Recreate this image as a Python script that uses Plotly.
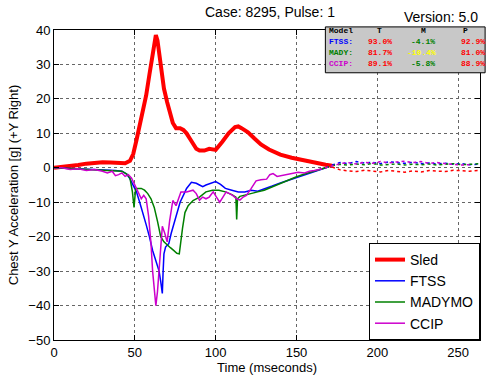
import plotly.graph_objects as go

# sled pulse (solid part, evaluation window)
sled_t = [0, 5, 10, 15, 20, 25, 30, 35, 40, 44, 47, 49, 51, 53, 55, 57, 59, 61, 62, 63, 64, 65,
          66.5, 68, 70, 72, 73.5, 75.5, 78, 80, 82, 84, 86, 88, 90, 93, 96, 100, 104, 108, 112,
          114, 116, 120, 124, 128, 133, 140, 147, 152, 160, 168, 172]
sled_y = [0, 0.2, 0.4, 0.8, 1.2, 1.5, 1.6, 1.5, 1.3, 1.3, 2, 4, 8, 12, 16, 21, 27, 33, 36, 38.5, 37, 33,
          28, 23, 19, 15, 13, 11.5, 11.5, 11, 10, 8.5, 7, 5.5, 5, 5, 5.5, 5.2, 7.5, 10, 11.8,
          12, 11.5, 10.3, 8.5, 6.8, 5.3, 3.8, 2.9, 2.4, 1.5, 0.9, 0.6]

ftss_t = [0, 10, 20, 30, 38, 42, 45, 47, 49, 51, 53, 55, 57, 59, 61, 63, 65, 66, 67, 67.5, 68, 69,
          71, 72.5, 74, 76, 78, 80, 82, 85, 88, 90, 92, 94, 97, 100, 103, 106, 110, 114, 118, 122,
          126, 130, 135, 140, 145, 150, 155, 160, 165, 170]
ftss_y = [0, -0.2, -0.3, -0.5, -0.8, -1, -1.8, -3.2, -5, -7, -10, -13, -16.5, -20, -24, -27, -30, -33,
          -36.5, -30, -25, -23, -22, -19, -16.5, -13, -10, -8, -6, -4.2, -4.5, -5, -5.5, -5, -4.5, -4,
          -4.8, -6, -6.5, -7, -7, -6.5, -6.8, -6.2, -5.3, -4.4, -3.6, -2.7, -1.9, -1.2, -0.5, 0.3]

mady_t = [0, 10, 20, 30, 38, 42, 45, 47, 48.5, 49.5, 50.5, 52, 54, 56, 58, 60, 62, 64, 66, 68, 70,
          72, 74, 76, 77.5, 78.5, 79.5, 81, 83, 86, 90, 94, 98, 102, 106, 110, 112.5, 113, 113.5,
          115, 118, 122, 126, 130, 135, 140, 145, 150, 155, 160, 165, 170]
mady_y = [0, -0.2, -0.4, -0.6, -0.8, -1, -1.8, -3, -7, -11.5, -6, -6, -6, -6.5, -7.5, -9, -11.5,
          -15.5, -20, -21.5, -22.5, -23.2, -24, -24.8, -25, -21, -17.5, -13, -11, -9.5, -8.5, -7,
          -6.5, -6.5, -7, -7.8, -8.5, -15, -9, -8.3, -8, -7.5, -7, -6.5, -5.5, -4.5, -3.5, -2.6,
          -1.8, -1.1, -0.4, 0.3]

ccip_t = [0, 5, 10, 15, 20, 25, 30, 33, 36, 38, 40, 42, 44, 46, 48, 50, 52, 54, 55.5, 57, 58.5, 60,
          61, 62, 63, 64, 65.5, 67, 68.5, 70, 71.5, 73.5, 75.5, 78.5, 82, 86, 88, 90, 92, 94, 96,
          98.5, 100.5, 102.5, 104.5, 106.5, 108.5, 110.5, 113, 115, 117, 119, 122, 125, 128, 131.5,
          133.5, 135.5, 138, 140, 143, 146, 148, 151, 155, 158, 161, 164]
ccip_y = [0, 0, -0.5, -0.3, -0.8, -0.5, -1, -1.5, -1, -2.3, -2, -1.5, -2.5, -2, -3, -5, -7.5, -9, -8,
          -9, -14, -22, -30, -35, -40, -36, -26, -17, -19, -21.5, -15.5, -9.5, -11, -7, -7, -6.5,
          -7.5, -9.4, -8.5, -9, -8.5, -7, -8.5, -10, -8.5, -7, -7.5, -8, -9, -9.4, -8.5, -8, -6,
          -3.8, -3.5, -3.3, -2, -1.7, -2.5, -2.3, -2, -1.7, -1.5, -1.3, -1.5, -1, -0.8, -0.5]

# after the evaluation window (dotted)
tail_t = [172, 177, 182, 187, 192, 197, 202, 207, 212, 217, 222, 227, 232, 237, 242, 247, 252, 257, 262, 265]
sled_tail = [0.2, -0.6, -0.9, -1.1, -0.7, -1.0, -1.2, -0.8, -1.1, -1.3, -0.9, -1.2, -0.8, -1.0,
             -1.1, -0.7, -0.9, -1.0, -0.8, -0.9]
ftss_tail = [0.8, 1.5, 1.2, 1.8, 1.4, 1.6, 1.2, 1.7, 1.5, 1.3, 1.6, 1.2, 1.4, 1.1, 1.3, 1.0, 1.2, 0.9, 1.0, 1.1]
mady_tail = [0.6, 1.0, 0.8, 1.1, 0.9, 1.2, 0.8, 1.0, 1.1, 0.8, 1.0, 0.9, 1.1, 0.8, 1.0, 1.2, 0.9, 1.1, 1.3, 1.2]
ccip_t2 = [164, 168, 172, 177, 182, 187, 192, 197, 202, 207, 212, 217, 222, 227, 232, 237, 242, 247, 252, 257]
ccip_tail = [-0.5, 0, 0.6, 1.2, 1.5, 1.1, 1.6, 1.3, 1.8, 1.4, 1.7, 1.9, 1.5, 1.8, 1.3, 1.5, 1.2, 1.0, 0.8, 0.9]

models = ["FTSS:", "MADY:", "CCIP:"]
t_score = ["93.0%", "81.7%", "89.1%"]
m_score = ["-4.1%", "-10.4%", "-5.8%"]
p_score = ["92.9%", "81.0%", "88.9%"]
m_colors = ["green", "yellow", "green"]
model_colors = ["blue", "green", "#cc00cc"]

fig = go.Figure()
fig.add_trace(go.Scatter(x=sled_t, y=sled_y, name="Sled", mode="lines", line=dict(color="red", width=4)))
fig.add_trace(go.Scatter(x=ftss_t, y=ftss_y, name="FTSS", mode="lines", line=dict(color="blue", width=1.5)))
fig.add_trace(go.Scatter(x=mady_t, y=mady_y, name="MADYMO", mode="lines", line=dict(color="green", width=1.5)))
fig.add_trace(go.Scatter(x=ccip_t, y=ccip_y, name="CCIP", mode="lines", line=dict(color="#cc00cc", width=1.5)))

for y, c in [(sled_tail, "red"), (ftss_tail, "blue"), (mady_tail, "green")]:
    fig.add_trace(go.Scatter(x=tail_t, y=y, mode="lines", showlegend=False,
                             line=dict(color=c, width=1.5, dash="dot")))
fig.add_trace(go.Scatter(x=ccip_t2, y=ccip_tail, mode="lines", showlegend=False,
                         line=dict(color="#cc00cc", width=1.5, dash="dot")))

axis = dict(showline=True, linecolor="black", linewidth=1, mirror="ticks", ticks="inside",
            ticklen=5, tickcolor="black", showgrid=True, gridcolor="#666", griddash="dot",
            gridwidth=1, zeroline=False, tickfont=dict(size=13, color="black"))
fig.update_xaxes(range=[0, 263.5], dtick=50, title=dict(text="Time (mseconds)", font=dict(size=13), standoff=4), **axis)
fig.update_yaxes(range=[-50, 40], dtick=10, title=dict(text="Chest Y Acceleration [g] (+Y Right)", font=dict(size=13), standoff=6), **axis)

# score table
fig.add_shape(type="rect", xref="paper", yref="paper", x0=0.637, x1=1.012, y0=0.862, y1=1.01,
              fillcolor="#c8c8c8", line=dict(color="black", width=1), layer="above")
tfont = dict(family="Liberation Mono", size=8, color="black")
header = [("Model", 328), ("T", 376), ("M", 420), ("P", 462)]
for txt, px in header:
    fig.add_annotation(text="<b>" + txt + "</b>", xref="paper", yref="paper", x=(px - 54) / 427,
                       y=(343 - 30) / 313, xanchor="left", yanchor="middle", showarrow=False, font=tfont)
for i in range(3):
    yy = (343 - (41.7 + 11 * i)) / 313
    cells = [(models[i], 328, model_colors[i]), (t_score[i], 367, "red"),
             (m_score[i], 406 if len(m_score[i]) > 5 else 410, m_colors[i]), (p_score[i], 460, "red")]
    for txt, px, col in cells:
        fig.add_annotation(text="<b>" + txt + "</b>", xref="paper", yref="paper", x=(px - 54) / 427, y=yy,
                           xanchor="left", yanchor="middle", showarrow=False, font=dict(tfont, color=col))

fig.add_annotation(text="Version: 5.0", xref="paper", yref="paper", x=1.0, y=(343 - 17) / 313,
                   xanchor="right", yanchor="middle", showarrow=False, font=dict(size=14, color="black"))

fig.update_layout(
    width=489, height=381,
    margin=dict(l=54, r=8, t=30, b=38),
    paper_bgcolor="white", plot_bgcolor="white",
    font=dict(family="Liberation Sans", color="black"),
    title=dict(text="Case: 8295, Pulse: 1", x=(270 / 489), xanchor="center", y=0.968, yanchor="middle",
               font=dict(size=14, color="black")),
    legend=dict(x=1, xanchor="right", y=0, yanchor="bottom", bgcolor="white", bordercolor="black",
                borderwidth=1, font=dict(size=14), tracegroupgap=0),
)

fig.write_html("out.html", config={"displayModeBar": False},
               post_script="document.body.style.margin='0';")
